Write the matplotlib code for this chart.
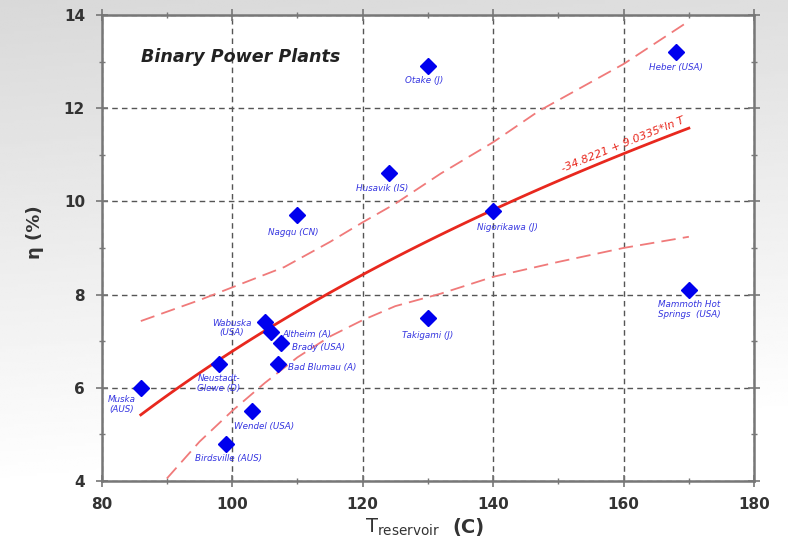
import numpy as np
import matplotlib.pyplot as plt

# binary power plants: reservoir temperature vs efficiency
names = ["Muska\n(AUS)", "Neustadt-\nGlewe (D)", "Birdsville (AUS)", "Wendel (USA)",
         "Wabuska\n(USA)", "Altheim (A)", "Brady (USA)", "Bad Blumau (A)",
         "Nagqu (CN)", "Husavik (IS)", "Otake (J)", "Takigami (J)",
         "Nigorikawa (J)", "Heber (USA)", "Mammoth Hot\nSprings  (USA)"]
t_res = [86, 98, 99, 103, 105, 106, 107.5, 107, 110, 124, 130, 130, 140, 168, 170]
eta = [6.0, 6.5, 4.8, 5.5, 7.4, 7.2, 6.95, 6.5, 9.7, 10.6, 12.9, 7.5, 9.8, 13.2, 8.1]

# label offsets in points (dx, dy) and horizontal alignment
lab_off = [(-14, -12, "center"), (0, -14, "center"), (2, -11, "center"), (9, -11, "center"),
           (-24, -4, "center"), (8, -2, "left"), (8, -3, "left"), (7, -2, "left"),
           (-3, -12, "center"), (-5, -11, "center"), (-3, -10, "center"), (0, -13, "center"),
           (10, -12, "center"), (0, -11, "center"), (0, -14, "center")]

# fit eta = a + b*ln T (coefficients as printed on the chart)
fit_a, fit_b = -34.8221, 9.0335
fit_t = np.linspace(86, 170, 100)

# confidence bands
upper_t = [86, 95, 108, 115, 120, 125, 132, 140, 147, 160, 170]
upper_eta = [7.43, 7.88, 8.59, 9.13, 9.55, 9.95, 10.6, 11.27, 11.94, 12.95, 13.87]
lower_t = [90, 95, 100, 105, 110, 115, 120, 125, 132, 140, 150, 160, 170]
lower_eta = [4.05, 4.84, 5.5, 6.1, 6.65, 7.1, 7.45, 7.75, 8.02, 8.38, 8.7, 9.0, 9.24]

fig = plt.figure(figsize=(7.88, 5.39), dpi=100)

# grey gradient background
bg = fig.add_axes([0, 0, 1, 1], zorder=-10)
yy, xx = np.mgrid[0:1:200j, 0:1:200j]
grad = 0.85 + 0.15 * np.clip(yy * 1.1 + xx * 0.15, 0, 1)
bg.imshow(grad, cmap="gray", vmin=0, vmax=1, aspect="auto", extent=[0, 1, 0, 1], origin="upper")
bg.axis("off")

ax = fig.add_axes([0.129, 0.108, 0.828, 0.864])
ax.set_facecolor("white")

ax.plot(fit_t, fit_a + fit_b * np.log(fit_t), color="#e8281e", lw=2, zorder=3)
ax.plot(upper_t, upper_eta, color="#f07a7a", lw=1.3, dashes=(8, 4), zorder=3)
ax.plot(lower_t, lower_eta, color="#f07a7a", lw=1.3, dashes=(8, 4), zorder=3)

ax.plot(t_res, eta, "D", color="#0000ee", ms=8, mec="#0000ee", zorder=4, clip_on=False)
for n, x, y, (dx, dy, ha) in zip(names, t_res, eta, lab_off):
    ax.annotate(n, (x, y), xytext=(dx, dy), textcoords="offset points", ha=ha, va="center",
                fontsize=6.3, style="italic", color="#3535e0", linespacing=1.1, zorder=5)

ax.text(150.8, 10.6, "-34.8221 + 9.0335*ln T", fontsize=8, style="italic", color="#e8281e",
        rotation=22, ha="left", va="bottom", rotation_mode="anchor")
ax.text(101.3, 13.1, "Binary Power Plants", fontsize=12.6, fontweight="bold", style="italic",
        color="#222222", ha="center", va="center")

ax.set_xlim(80, 180)
ax.set_ylim(4, 14)
ax.set_xticks([80, 100, 120, 140, 160, 180])
ax.set_yticks([4, 6, 8, 10, 12, 14])
ax.set_xticks(np.arange(90, 180, 20), minor=True)
ax.set_yticks(np.arange(5, 14, 2), minor=True)
ax.grid(True, which="major", color="#555555", lw=1, dashes=(4, 3))
ax.tick_params(which="both", direction="inout", top=True, right=True, color="#777777",
               labelsize=11, labelcolor="#333333", pad=8)
ax.tick_params(which="major", length=8, width=1.2)
ax.tick_params(which="minor", length=4, width=1)
for lab in ax.get_xticklabels() + ax.get_yticklabels():
    lab.set_fontweight("bold")
for s in ax.spines.values():
    s.set_color("#777777")
    s.set_linewidth(1.8)

fig.text(0.045, 0.57, "η (%)", rotation=90, fontsize=13, fontweight="bold", color="#333333",
         ha="center", va="center")
fig.text(0.463, 0.012, r"T$_{\rm reservoir}$", fontsize=14, color="#333333", ha="left", va="baseline")
fig.text(0.574, 0.012, "(C)", fontsize=14, fontweight="bold", color="#333333", ha="left", va="baseline")

fig.savefig("out.png", dpi=100)
